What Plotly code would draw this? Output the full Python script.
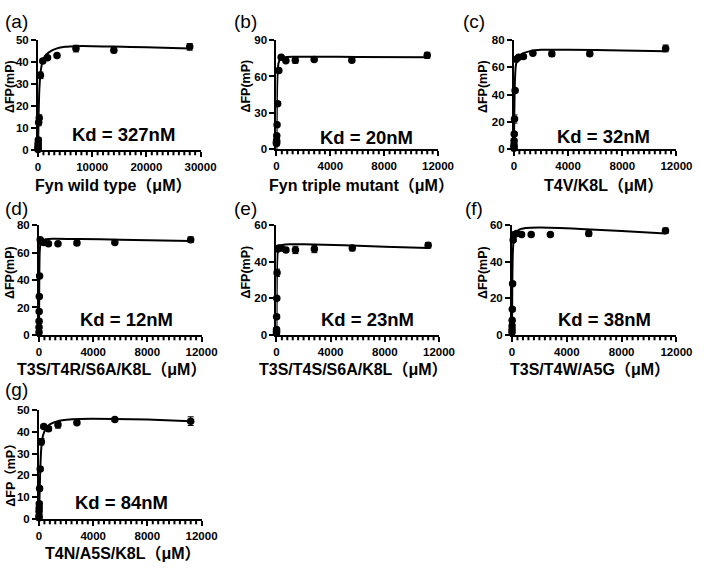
import plotly.graph_objects as go

W, H = 709, 568

# ---------------- data ----------------
labels = ["(a)", "(b)", "(c)", "(d)", "(e)", "(f)", "(g)"]
kd_texts = ["Kd = 327nM", "Kd = 20nM", "Kd = 32nM", "Kd = 12nM", "Kd = 23nM", "Kd = 38nM", "Kd = 84nM"]
x_titles = ["Fyn wild type（μM）", "Fyn triple mutant（μM）", "T4V/K8L（μM）",
            "T3S/T4R/S6A/K8L（μM）", "T3S/T4S/S6A/K8L（μM）", "T3S/T4W/A5G（μM）",
            "T4N/A5S/K8L（μM）"]
y_titles = ["ΔFP(mP)"] * 6 + ["ΔFP（mP）"]

conc_a = [28000, 14000, 7000, 3500, 1750, 875, 437.5, 218.75, 109.4, 54.7, 27.3, 13.7, 6.8, 3.4, 1.7]
conc_b = [11200, 5600, 2800, 1400, 700, 350, 175, 87.5, 43.75, 21.9, 10.9, 5.5, 2.7, 1.4]

vals_a = [47, 45.5, 46.2, 43, 42, 40.5, 34, 14.5, 12.5, 4.5, 3, 2, 1, 0.5, 0.2]
errs_a = [1.5, 1.2, 1.5, 0.7, 0.7, 0.7, 1.5, 1.5, 1.5, 1, 1, 0.5, 0.5, 0.5, 0.5]
vals_b = [77.5, 73.5, 74, 73.5, 73, 76, 65, 37.5, 20, 11, 7, 6, 5, 4.5]
errs_b = [2.5, 1.5, 1, 2.5, 1, 1, 1, 1.5, 1, 1, 1, 1, 1, 1]
vals_c = [74, 70, 70, 70.5, 68, 67.5, 66, 43, 22, 11, 6, 3, 1.5, 0.5]
errs_c = [2.5, 1.5, 2, 1, 1, 1, 1, 1, 3, 1, 1, 1, 1, 0.5]
vals_d = [69.5, 67.5, 67, 66.5, 66.5, 67.5, 68, 69.5, 43, 28, 17, 10, 5.5, 2]
errs_d = [2, 1, 1.5, 1, 1, 1, 1, 1, 1, 1, 1, 1, 1, 1]
vals_e = [49, 47.5, 47, 46.5, 46.5, 47.5, 47.5, 47, 34, 20, 10, 3, 2, 1]
errs_e = [1.5, 1.5, 2, 2, 1, 1, 1, 1, 2, 1, 1, 1, 1, 1]
vals_f = [57, 55.5, 55, 55, 55, 55.5, 55, 52, 28, 14, 8, 5, 3, 1.5]
errs_f = [1.5, 1.5, 1, 1, 1, 1, 1, 1, 1, 1, 1, 1, 1, 1]
vals_g = [45, 45.7, 44.2, 43.3, 41.5, 42.5, 35.5, 23, 14, 7, 5, 3.5, 1.5, 0.5]
errs_g = [2, 0.7, 0.8, 1.5, 1, 0.7, 1.5, 1, 1, 1, 1, 1, 1, 0.5]

fit_x_a = [0, 100, 250, 500, 800, 1200, 2000, 3500, 5000, 7000, 10000, 14000, 20000, 28000]
fit_y_a = [0, 15, 28, 36, 40, 42.5, 44.5, 46.3, 47, 47.3, 47.3, 47.1, 46.8, 46.2]
fit_x_b = [0, 30, 80, 150, 300, 600, 1200, 3000, 6000, 11200]
fit_y_b = [0, 40, 62, 71, 75, 76, 76.3, 76.3, 76.2, 76]
fit_x_c = [0, 30, 80, 150, 300, 600, 1200, 2000, 4000, 8000, 11200]
fit_y_c = [0, 28, 52, 62, 67, 70, 72, 73, 73, 72.5, 72]
fit_x_d = [0, 20, 50, 100, 200, 500, 1000, 3000, 6000, 11200]
fit_y_d = [0, 40, 60, 66, 68.5, 69.8, 70.2, 70, 69.5, 68.5]
fit_x_e = [0, 20, 50, 100, 200, 500, 1000, 2000, 5000, 8000, 11200]
fit_y_e = [0, 25, 40, 46, 48, 49.3, 49.6, 49.6, 49, 48.3, 47.5]
fit_x_f = [0, 20, 50, 100, 200, 500, 1000, 2000, 5000, 8000, 11200]
fit_y_f = [0, 25, 42, 50, 54.5, 57.5, 58.5, 58.8, 58, 56.8, 55.5]
fit_x_g = [0, 50, 100, 175, 300, 500, 800, 1500, 3000, 5600, 8000, 11200]
fit_y_g = [0, 13, 24, 33, 38.5, 41.5, 43.5, 45.2, 46, 46, 45.7, 45]

y_max = [50, 90, 80, 80, 60, 60, 50]
y_dtick = [10, 30, 20, 20, 20, 20, 10]
x_max = [30000, 12000, 12000, 12000, 12000, 12000, 12000]
x_dtick = [10000, 4000, 4000, 4000, 4000, 4000, 4000]
x_minor = [1000, 400, 400, 400, 400, 400, 400]

concs = [conc_a, conc_b, conc_b, conc_b, conc_b, conc_b, conc_b]
vals = [vals_a, vals_b, vals_c, vals_d, vals_e, vals_f, vals_g]
errs = [errs_a, errs_b, errs_c, errs_d, errs_e, errs_f, errs_g]
fit_xs = [fit_x_a, fit_x_b, fit_x_c, fit_x_d, fit_x_e, fit_x_f, fit_x_g]
fit_ys = [fit_y_a, fit_y_b, fit_y_c, fit_y_d, fit_y_e, fit_y_f, fit_y_g]

# ---------------- layout (pixels) ----------------
# plot boxes: (left, right, top, bottom)
boxes = [(36, 203, 35, 147), (281, 447, 35, 146), (525, 692, 35, 146),
         (37, 204, 224, 336), (281, 448, 224, 336), (523, 692, 224, 336),
         (37, 204, 413, 524)]
label_pos = [(14, 16), (249, 16), (484, 16), (14, 207), (249, 207), (484, 207), (14, 392)]
kd_pos = [(124, 131), (374, 134), (617, 133), (127, 320), (375, 320), (618, 320), (122, 507)]
xt_pos = [(113, 183), (368, 183), (617, 183), (112, 371), (360, 371), (603, 371), (123, 559)]
yt_pos = [(7, 82), (250, 82), (493, 82), (7, 272), (250, 272), (493, 272), (8, 476)]
MINOR_LEN = 4.5  # px

def px(x):
    return x / W

def py(y):
    return 1 - y / H

FONT = "Liberation Sans, Arial, Noto Sans CJK SC, sans-serif"

fig = go.Figure()
annotations = []
shapes = []
layout_axes = {}

for i in range(7):
    n = "" if i == 0 else str(i + 1)
    xa, ya = "x" + n, "y" + n
    fig.add_trace(go.Scatter(
        x=concs[i], y=vals[i], mode="markers", xaxis=xa, yaxis=ya,
        marker=dict(color="black", size=7.5),
        error_y=dict(type="data", array=errs[i], color="black", thickness=1, width=3),
        cliponaxis=False, showlegend=False))
    fig.add_trace(go.Scatter(
        x=fit_xs[i], y=fit_ys[i], mode="lines", xaxis=xa, yaxis=ya,
        line=dict(color="black", width=2, shape="spline", smoothing=0.6),
        cliponaxis=False, showlegend=False))
    l, r, t, b = boxes[i]
    layout_axes["xaxis" + n] = dict(
        domain=[px(l), px(r)], range=[0, x_max[i]], anchor=ya,
        tickmode="linear", tick0=0, dtick=x_dtick[i], tickformat="d",
        showline=True, linecolor="black", linewidth=2,
        ticks="outside", ticklen=5, tickwidth=2, tickcolor="black",
        showgrid=False, zeroline=False,
        tickfont=dict(family=FONT, size=11.5, color="black", weight="bold"))
    layout_axes["yaxis" + n] = dict(
        domain=[py(b), py(t)], range=[0, y_max[i]], anchor=xa,
        tickmode="linear", tick0=0, dtick=y_dtick[i],
        showline=True, linecolor="black", linewidth=2,
        ticks="outside", ticklen=5, tickwidth=2, tickcolor="black",
        showgrid=False, zeroline=False,
        tickfont=dict(family=FONT, size=11.5, color="black", weight="bold"))
    # small minor tick marks below the x axis (axis decoration, paper coords so not clipped)
    k = 1
    while k * x_minor[i] < x_max[i]:
        v = k * x_minor[i]
        if v % x_dtick[i] != 0:
            xp = px(l) + (px(r) - px(l)) * v / x_max[i]
            shapes.append(dict(type="line", xref="paper", yref="paper", layer="above",
                               x0=xp, x1=xp, y0=py(b + 1), y1=py(b + 1 + MINOR_LEN),
                               line=dict(color="black", width=2)))
        k += 1
    annotations.append(dict(x=px(label_pos[i][0]), y=py(label_pos[i][1]), xref="paper", yref="paper",
                            text=labels[i], showarrow=False, xanchor="center", yanchor="middle",
                            font=dict(family=FONT, size=19, color="black")))
    annotations.append(dict(x=px(kd_pos[i][0]), y=py(kd_pos[i][1]), xref="paper", yref="paper",
                            text=kd_texts[i], showarrow=False, xanchor="center", yanchor="middle",
                            font=dict(family=FONT, size=18.5, color="black", weight="bold")))
    annotations.append(dict(x=px(xt_pos[i][0]), y=py(xt_pos[i][1]), xref="paper", yref="paper",
                            text=x_titles[i], showarrow=False, xanchor="center", yanchor="middle",
                            font=dict(family=FONT, size=16, color="black", weight="bold")))
    annotations.append(dict(x=px(yt_pos[i][0]), y=py(yt_pos[i][1]), xref="paper", yref="paper",
                            text=y_titles[i], showarrow=False, xanchor="center", yanchor="middle",
                            textangle=-90,
                            font=dict(family=FONT, size=12.5, color="black", weight="bold")))

fig.update_layout(
    width=W, height=H, margin=dict(l=0, r=0, t=0, b=0),
    paper_bgcolor="white", plot_bgcolor="white",
    annotations=annotations, shapes=shapes, **layout_axes)

fig.write_html("out.html", config={"displayModeBar": False},
               post_script="document.body.style.margin='0';document.body.style.overflow='hidden';")
